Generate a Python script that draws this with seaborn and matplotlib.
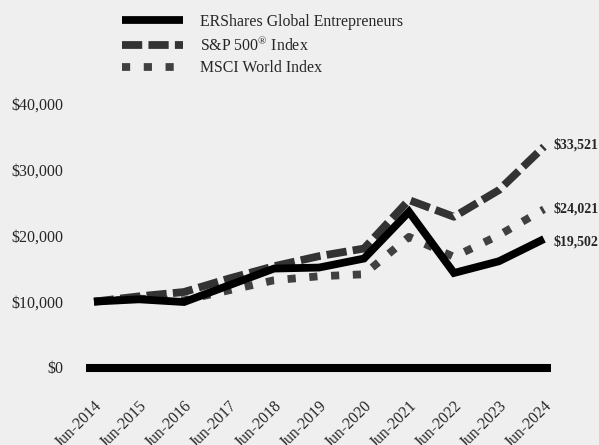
import matplotlib
matplotlib.use("Agg")
import matplotlib.pyplot as plt
import seaborn as sns
import pandas as pd

dates = ["Jun-2014", "Jun-2015", "Jun-2016", "Jun-2017", "Jun-2018", "Jun-2019",
         "Jun-2020", "Jun-2021", "Jun-2022", "Jun-2023", "Jun-2024"]
ershares = [10000, 10350, 9940, 12480, 15020, 15170, 16540, 23640, 14350, 16130, 19502]
sp500 = [10000, 10800, 11460, 13500, 15370, 16900, 18060, 25420, 22880, 26940, 33521]
msci = [10000, 10450, 10200, 11720, 13240, 13850, 14150, 19830, 16790, 20090, 24021]
series_names = ["ERShares Global Entrepreneurs", "S&P 500$^{\u00ae}$ Index", "MSCI World Index"]
yticks = [0, 10000, 20000, 30000, 40000]

sns.set_theme(style="white")
plt.rcParams['font.family'] = ['Liberation Serif', 'DejaVu Serif']
plt.rcParams['mathtext.fontset'] = 'custom'
plt.rcParams['mathtext.rm'] = 'Liberation Serif'

bg = "#efefef"
fig = plt.figure(figsize=(5.99, 4.45), dpi=100, facecolor=bg)
ax = fig.add_axes([86/599, 1-367.5/445, (551-86)/599, (367.5-104)/445])
ax.set_facecolor(bg)

x = list(range(len(dates)))
lw = 5.6
styles = [
    dict(color="#000000", ls="-", z=5),
    dict(color="#333333", ls=(0, (2.6, 0.8)), z=4),
    dict(color="#404040", ls=(0, (1.05, 1.75)), z=3),
]
for vals, name, st in zip([ershares, sp500, msci], series_names, styles):
    df = pd.DataFrame({"x": x, "y": vals})
    sns.lineplot(data=df, x="x", y="y", ax=ax, color=st["color"], linewidth=lw,
                 linestyle=st["ls"], label=name, clip_on=False, zorder=st["z"])
for ln in ax.get_lines():
    ln.set_solid_capstyle("butt")
    ln.set_solid_joinstyle("miter")

ax.set_xlim(-0.178, 10.156)
ax.set_ylim(0, 40000)
ax.set_yticks(yticks)
ax.set_yticklabels([f"${v:,.0f}" for v in yticks], fontsize=11.5)
ax.set_xticks(x)
ax.set_xticklabels(dates, rotation=45, ha="right", rotation_mode="anchor", fontsize=11.3)
ax.set_xlabel("")
ax.set_ylabel("")
for s in ["top", "right", "left"]:
    ax.spines[s].set_visible(False)
ax.spines["bottom"].set_linewidth(5.8)
ax.spines["bottom"].set_color("black")
ax.spines["bottom"].set_capstyle("butt")
ax.spines["bottom"].set_zorder(6)
ax.tick_params(axis="x", length=6.5, width=1.5, color="black", pad=15.5, direction="out")
ax.tick_params(axis="y", length=0, pad=16.5)

# end labels
for v, ly in zip([sp500[-1], msci[-1], ershares[-1]], [33760, 24050, 19040]):
    ax.annotate(f"${v:,.0f}", xy=(10, ly), xytext=(6.5, 0), textcoords="offset points",
                fontsize=10, fontweight="bold", va="center", ha="left", annotation_clip=False)

h, l = ax.get_legend_handles_labels()
if ax.legend_:
    ax.legend_.remove()
fig.legend(h, l, loc="upper left", bbox_to_anchor=(122/599, 1-14/445), frameon=False,
           fontsize=11.4, handlelength=3.85, handletextpad=1.05, labelspacing=0.37,
           borderpad=0, borderaxespad=0)

fig.savefig("out.png", dpi=100, facecolor=bg)
